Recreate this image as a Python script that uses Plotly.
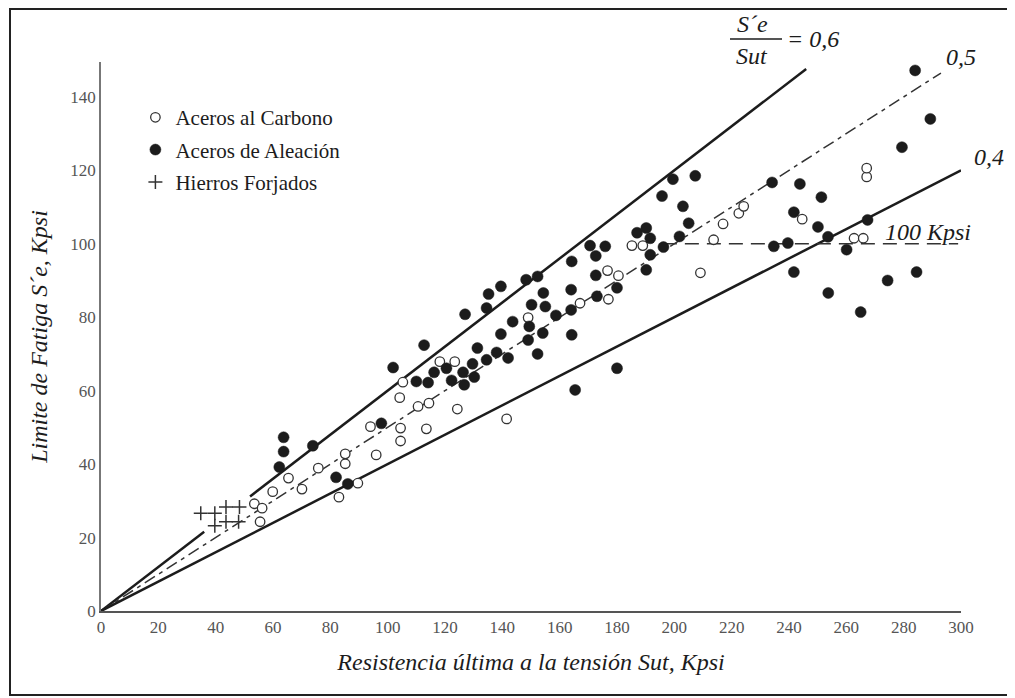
import plotly.graph_objects as go

# datos (Sut, S'e en kpsi)
carbono_x = [53.5, 56.2, 55.5, 59.9, 65.4, 70.1, 75.8, 85.2, 85.2, 83.0, 89.6,
             149.0, 118.2, 123.4, 105.3, 104.2, 110.6, 114.4, 124.3, 94.0, 104.5, 113.5, 104.5, 96.0, 141.5,
             167.1, 176.7, 180.5, 177.0, 185.2, 189.0, 213.7, 209.1, 217.0, 222.5, 224.2,
             267.1, 267.1, 244.6, 262.7, 265.9]
carbono_y = [29.2, 28.0, 24.3, 32.5, 36.2, 33.2, 38.9, 42.8, 40.1, 31.0, 34.8,
             79.9, 67.9, 67.9, 62.3, 58.1, 55.7, 56.6, 55.0, 50.2, 49.8, 49.6, 46.3, 42.5, 52.3,
             83.8, 92.7, 91.3, 84.9, 99.5, 99.5, 101.1, 92.1, 105.4, 108.3, 110.2,
             118.2, 120.6, 106.7, 101.5, 101.5]

aleacion_x = [63.7, 63.7, 62.2, 73.9, 82.0, 86.1,
              101.9, 112.7, 127.0, 135.2, 134.5, 139.5, 148.3, 152.3, 154.3, 150.2, 155.0, 143.6, 149.4,
              154.1, 139.5, 149.0, 152.3, 131.3, 138.0, 142.0, 134.5, 129.6, 120.5, 116.2, 126.3, 130.2,
              110.0, 114.1, 122.3, 126.7, 97.8,
              158.7, 164.0, 164.0, 164.2, 164.2, 170.6, 175.9, 172.6, 172.6, 173.0, 180.0, 180.0, 165.4,
              199.5, 207.3, 195.7, 203.0, 205.0, 201.8, 196.2, 187.0, 190.2, 191.6, 191.6, 190.2, 234.1, 234.7,
              279.4, 243.8, 251.3, 241.7, 250.1, 253.6, 267.4, 239.6, 260.1, 241.7, 274.4, 284.5, 253.7,
              265.0, 284.0, 289.3]
aleacion_y = [47.3, 43.4, 39.2, 45.0, 36.4, 34.6,
              66.3, 72.4, 80.8, 86.3, 82.5, 88.4, 90.2, 91.1, 86.6, 83.4, 82.9, 78.8, 77.5,
              75.7, 75.4, 73.8, 70.0, 71.6, 70.4, 68.9, 68.4, 67.3, 66.1, 65.0, 65.0, 63.7,
              62.5, 62.2, 62.8, 61.6, 51.1,
              80.5, 87.5, 82.0, 95.2, 75.2, 99.5, 99.3, 96.7, 91.4, 85.7, 88.0, 66.1, 60.2,
              117.6, 118.5, 113.0, 110.2, 105.6, 102.0, 99.1, 103.0, 104.3, 101.5, 97.0, 92.9, 116.7, 99.3,
              126.3, 116.3, 112.7, 108.6, 104.6, 101.9, 106.5, 100.2, 98.4, 92.3, 90.0, 92.3, 86.6,
              81.4, 147.2, 134.0]

hierro_x = [34.8, 39.7, 43.6, 48.3, 39.7, 43.6, 48.0]
hierro_y = [26.6, 26.6, 28.3, 28.3, 23.2, 24.3, 24.3]

# rectas S'e/Sut
ratio_06 = 0.6
tramos_06 = [(0, 36), (52, 246)]
ratio_05 = 0.5
tramo_05 = (0, 293)
ratio_04 = 0.4
tramo_04 = (0, 300)
limite_x = [196, 299]
limite_y = [100, 100]

x_ticks = list(range(0, 301, 20))
y_ticks = list(range(0, 141, 20))

SERIF = "Liberation Serif"
INK = "#1c1c1c"

fig = go.Figure()

for a, b in tramos_06:
    fig.add_trace(go.Scatter(x=[a, b], y=[ratio_06 * a, ratio_06 * b], mode="lines",
                             line=dict(color=INK, width=2.5), showlegend=False, hoverinfo="skip"))
fig.add_trace(go.Scatter(x=list(tramo_05), y=[ratio_05 * v for v in tramo_05], mode="lines",
                         line=dict(color="#333", width=1.5, dash="12px,5px,4px,5px"),
                         showlegend=False, hoverinfo="skip"))
fig.add_trace(go.Scatter(x=list(tramo_04), y=[ratio_04 * v for v in tramo_04], mode="lines",
                         line=dict(color=INK, width=2.5), showlegend=False, hoverinfo="skip"))
fig.add_trace(go.Scatter(x=limite_x, y=limite_y, mode="lines",
                         line=dict(color="#333", width=1.5, dash="14px,8px"),
                         showlegend=False, hoverinfo="skip"))

fig.add_trace(go.Scatter(x=carbono_x, y=carbono_y, mode="markers", name="Aceros al Carbono",
                         legendgroup="c",
                         marker=dict(symbol="circle", size=9.5, color="white",
                                     line=dict(color="#333", width=1.3))))
fig.add_trace(go.Scatter(x=aleacion_x, y=aleacion_y, mode="markers", name="Aceros de Aleación",
                         legendgroup="a",
                         marker=dict(symbol="circle", size=11, color=INK,
                                     line=dict(color=INK, width=0.5))))
fig.add_trace(go.Scatter(x=hierro_x, y=hierro_y, mode="markers", name="Hierros Forjados",
                         legendgroup="h",
                         marker=dict(symbol="cross-thin", size=10,
                                     line=dict(color="#333", width=1.5))))

# la pagina deja 8 px de margen: pixeles de la captura -> coordenadas paper
def px(x):
    return (x - 101) / 860

def py(y):
    return (611 - y) / 549

ital = dict(family=SERIF, size=24, color=INK, style="italic")
notes = [
    ("S´e", 752, 24),
    ("Sut", 752, 56),
    ("= 0,6", 813, 39),
    ("0,5", 961, 57),
    ("0,4", 989, 157),
    ("100 Kpsi", 928, 232),
]
for txt, x, y in notes:
    fig.add_annotation(text=txt, x=px(x), y=py(y), xref="paper", yref="paper",
                       showarrow=False, font=ital, xanchor="center", yanchor="middle")

fig.add_shape(type="line", xref="paper", yref="paper", x0=px(730), x1=px(782),
              y0=py(39), y1=py(39), line=dict(color=INK, width=1.3))
# marco exterior
fig.add_shape(type="rect", xref="paper", yref="paper", x0=px(10), x1=px(1012),
              y0=py(695), y1=py(9), line=dict(color="#222", width=2))

fig.update_layout(
    width=1007, height=690,
    margin=dict(l=93, r=54, t=54, b=87),
    paper_bgcolor="white", plot_bgcolor="white",
    font=dict(family=SERIF, color="#555"),
    legend=dict(x=0.04, y=0.936, xanchor="left", yanchor="top",
                font=dict(family=SERIF, size=21, color=INK),
                tracegroupgap=2, itemwidth=30, bgcolor="rgba(0,0,0,0)"),
)
fig.update_xaxes(range=[0, 300], tickvals=x_ticks, showgrid=False, zeroline=False,
                 showline=True, linecolor="#555", linewidth=1.5, ticks="",
                 tickfont=dict(family=SERIF, size=17, color="#555"),
                 title=dict(text="Resistencia última a la tensión Sut, Kpsi", standoff=17,
                            font=dict(family=SERIF, size=24, color=INK, style="italic")))
fig.update_yaxes(range=[0, 149.5], tickvals=y_ticks, showgrid=False, zeroline=False,
                 showline=True, linecolor="#777", linewidth=1.5, ticks="",
                 tickfont=dict(family=SERIF, size=17, color="#555"),
                 title=dict(text="Limite de Fatiga S´e, Kpsi", standoff=16,
                            font=dict(family=SERIF, size=24, color=INK, style="italic")))

fig.write_html("out.html")
